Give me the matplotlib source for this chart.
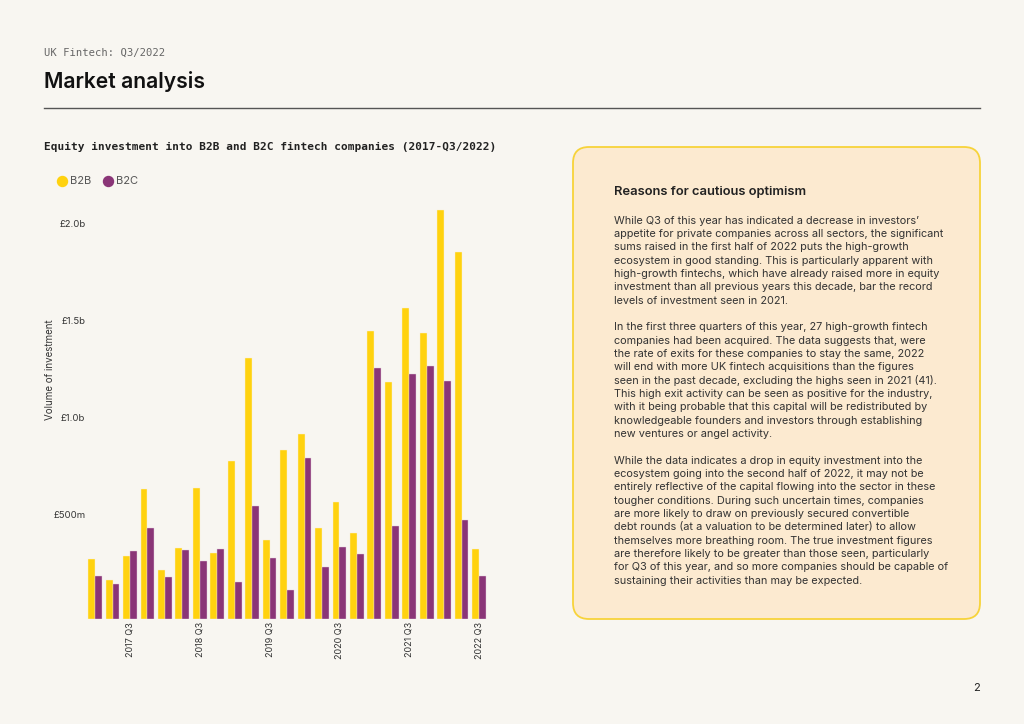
import matplotlib
matplotlib.use("Agg")
import matplotlib.pyplot as plt
import numpy as np
from matplotlib.patches import FancyBboxPatch
from matplotlib import transforms

# ---------------- data ----------------
quarters = [f"{y} Q{q}" for y in range(2017, 2023) for q in range(1, 5)][:23]
b2b = [312, 201, 328, 672, 253, 366, 675, 340, 816, 1347, 409, 873,
       954, 471, 603, 443, 1485, 1223, 1605, 1476, 2111, 1892, 362]
b2c = [225, 180, 354, 471, 220, 357, 300, 361, 192, 582, 318, 153,
       830, 270, 374, 337, 1295, 483, 1264, 1304, 1227, 510, 222]
ytick_vals = [500, 1000, 1500, 2000]
ytick_labels = ["£500m", "£1.0b", "£1.5b", "£2.0b"]
series_names = ["B2B", "B2C"]

body_lines = [
    "While Q3 of this year has indicated a decrease in investors’",
    "appetite for private companies across all sectors, the significant",
    "sums raised in the first half of 2022 puts the high-growth",
    "ecosystem in good standing. This is particularly apparent with",
    "high-growth fintechs, which have already raised more in equity",
    "investment than all previous years this decade, bar the record",
    "levels of investment seen in 2021.",
    "",
    "In the first three quarters of this year, 27 high-growth fintech",
    "companies had been acquired. The data suggests that, were",
    "the rate of exits for these companies to stay the same, 2022",
    "will end with more UK fintech acquisitions than the figures",
    "seen in the past decade, excluding the highs seen in 2021 (41).",
    "This high exit activity can be seen as positive for the industry,",
    "with it being probable that this capital will be redistributed by",
    "knowledgeable founders and investors through establishing",
    "new ventures or angel activity.",
    "",
    "While the data indicates a drop in equity investment into the",
    "ecosystem going into the second half of 2022, it may not be",
    "entirely reflective of the capital flowing into the sector in these",
    "tougher conditions. During such uncertain times, companies",
    "are more likely to draw on previously secured convertible",
    "debt rounds (at a valuation to be determined later) to allow",
    "themselves more breathing room. The true investment figures",
    "are therefore likely to be greater than those seen, particularly",
    "for Q3 of this year, and so more companies should be capable of",
    "sustaining their activities than may be expected.",
]

# ---------------- style ----------------
BG = "#F8F6F1"
YEL = "#FFD20F"
PUR = "#8A3577"
SANS = ["Inter", "DejaVu Sans"]
MONO = ["DejaVu Sans Mono"]

W, H = 1024, 724
fig = plt.figure(figsize=(W / 100, H / 100), dpi=100, facecolor=BG)

def fx(x):
    return x / W

def fy(y):
    return 1 - y / H

# header
fig.text(fx(44), fy(53), "UK Fintech: Q3/2022", family=MONO, fontsize=7.6,
         color="#666666", va="center", ha="left")
fig.text(fx(44), fy(82), "Market analysis", family=SANS, fontsize=15.2,
         weight="semibold", color="#111111", va="center", ha="left")
fig.add_artist(plt.Line2D([fx(44), fx(980)], [fy(108), fy(108)],
                          color="#555555", lw=1.0, transform=fig.transFigure))

# chart title
fig.text(fx(44), fy(147), "Equity investment into B2B and B2C fintech companies (2017-Q3/2022)",
         family=MONO, fontsize=8.0, weight="bold", color="#222222",
         va="center", ha="left")

# legend
for cx, col, name in [(62, YEL, series_names[0]), (108, PUR, series_names[1])]:
    fig.add_artist(plt.Line2D([fx(cx)], [fy(181)], marker="o", markersize=7.2,
                              color=col, transform=fig.transFigure, lw=0))
    fig.text(fx(cx + 8), fy(181), name, family=SANS, fontsize=8.0,
             color="#555555", va="center", ha="left")

# ---------------- axes ----------------
step = 17.45
x0 = 95.1
left_px = x0 - 0.5 * step
right_px = x0 + 22.5 * step
top_px, base_px = 200, 619.3
ax = fig.add_axes([fx(left_px), fy(base_px), (right_px - left_px) / W,
                   (base_px - top_px) / H])
ax.set_facecolor("none")
ymax = (base_px - top_px) / 0.194
ax.set_xlim(-0.5, 22.5)
ax.set_ylim(0, ymax)

x = np.arange(len(quarters))
bw = 0.395
ax.bar(x - bw / 2, b2b, width=bw, color=YEL, edgecolor="#FBF1D0", linewidth=0.3)
ax.bar(x + bw / 2, b2c, width=bw, color=PUR, edgecolor="#E4CFDD", linewidth=0.3)

for s in ax.spines.values():
    s.set_visible(False)

tick_idx = [i for i, q in enumerate(quarters) if q.endswith("Q3")]
ax.set_xticks(tick_idx)
ax.set_xticklabels([quarters[i] for i in tick_idx], rotation=90, family=SANS,
                   fontsize=6.5, color="#333333")
ax.tick_params(axis="x", length=0, pad=2)
ax.set_yticks([])

ytrans = transforms.offset_copy(ax.get_yaxis_transform(), fig=fig, x=-1, y=7,
                                units="dots")
for v, lab in zip(ytick_vals, ytick_labels):
    ax.text(0, v, lab, transform=ytrans, ha="right", va="center", family=SANS,
            fontsize=6.9, color="#333333")

fig.text(fx(50), fy(370), "Volume of investment", rotation=90, family=SANS,
         fontsize=7.0, color="#333333", ha="center", va="center")

# ---------------- right panel ----------------
box = FancyBboxPatch((573 / 100, (H - 619) / 100), (980 - 573) / 100, (619 - 147) / 100,
                     boxstyle="round,pad=0,rounding_size=0.16",
                     transform=fig.dpi_scale_trans, facecolor="#FCEAD0",
                     edgecolor="#F7D33A", linewidth=1.3)
fig.add_artist(box)

fig.text(fx(614), fy(192), "Reasons for cautious optimism", family=SANS,
         fontsize=9.3, weight="semibold", color="#222222", va="center", ha="left")
for i, line in enumerate(body_lines):
    if line:
        fig.text(fx(614), fy(220.7 + i * 13.33), line, family=SANS, fontsize=7.85,
                 color="#333333", va="center", ha="left")

fig.text(fx(976), fy(688), "2", family=SANS, fontsize=8, color="#222222",
         ha="center", va="center")

fig.savefig("out.png", dpi=100, facecolor=BG)
